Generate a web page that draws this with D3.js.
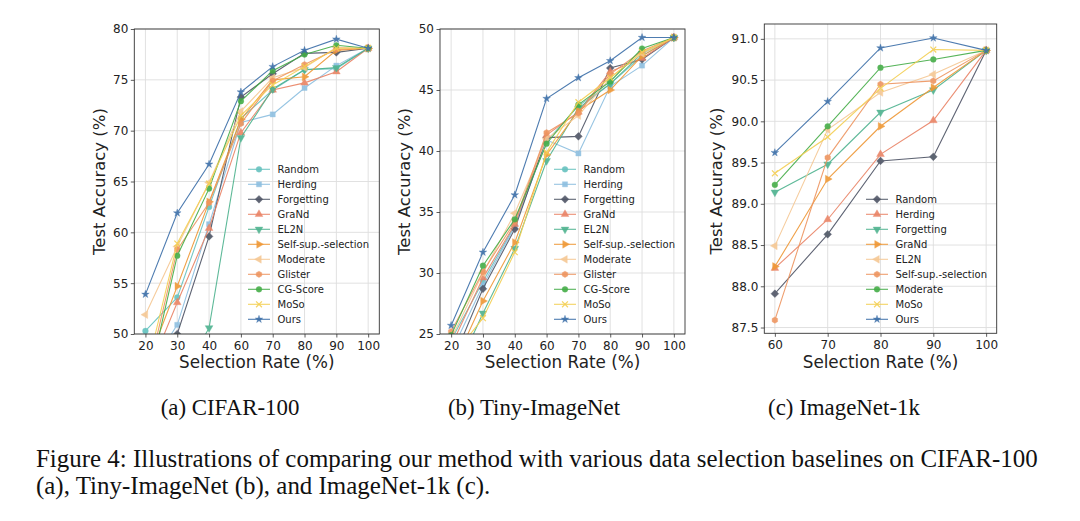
<!DOCTYPE html>
<html>
<head>
<meta charset="utf-8">
<script src="https://cdn.jsdelivr.net/npm/d3@7"></script>
<style>
  html, body { margin: 0; padding: 0; background: #fff; }
  svg { display: block; }
</style>
</head>
<body>
<svg id="svg"></svg>
<script>
// selection rates (x categories)
const ratesAB = [20, 30, 40, 60, 70, 80, 90, 100];
const ratesC = [60, 70, 80, 90, 100];

const namesAB = ["Random", "Herding", "Forgetting", "GraNd", "EL2N", "Self-sup.-selection",
    "Moderate", "Glister", "CG-Score", "MoSo", "Ours"];
const namesC = ["Random", "Herding", "Forgetting", "GraNd", "EL2N", "Self-sup.-selection",
    "Moderate", "MoSo", "Ours"];

// one style per slot, panel (c) starts at slot 2
const colors = ["#67c2bf", "#8dbfe0", "#4f5566", "#ea8467", "#4fb38f", "#ef9836",
    "#f6c894", "#ee9560", "#45ad48", "#f4cf52", "#3b6ea8"];
const markers = ["circle", "square", "diamond", "triUp", "triDown", "triRight",
    "triLeft", "hexagon", "circle", "x", "star"];

// CIFAR-100
const cifarValues = [
    [50.3, 53.6, 62.5, 71.2, 74.0, 76.0, 76.1, 78.1],
    [46.0, 50.9, 60.8, 70.8, 71.6, 74.2, 76.4, 78.1],
    [44.0, 50.0, 59.6, 73.3, 75.6, 77.6, 77.7, 78.1],
    [45.5, 53.1, 60.4, 69.8, 74.0, 74.7, 75.8, 78.1],
    [40.0, 45.0, 50.6, 69.3, 74.1, 76.0, 76.2, 78.1],
    [46.5, 54.7, 63.0, 71.1, 75.0, 75.3, 77.9, 78.1],
    [51.9, 58.6, 64.9, 71.9, 75.2, 76.2, 78.2, 78.1],
    [45.0, 58.3, 62.9, 70.7, 74.9, 76.5, 78.0, 78.1],
    [44.0, 57.7, 64.3, 72.9, 75.9, 77.5, 78.4, 78.1],
    [46.0, 58.9, 64.8, 71.5, 74.5, 76.3, 78.1, 78.1],
    [53.9, 61.9, 66.7, 73.8, 76.3, 77.9, 79.0, 78.1]
];

// Tiny-ImageNet
const tinyValues = [
    [24.5, 29.3, 33.9, 40.8, 43.7, 45.5, 47.8, 49.3],
    [23.5, 29.0, 33.8, 40.9, 39.8, 45.3, 47.0, 49.3],
    [22.5, 28.7, 33.6, 41.1, 41.2, 46.8, 47.5, 49.3],
    [24.0, 29.6, 34.0, 41.3, 43.2, 46.5, 47.6, 49.3],
    [21.0, 26.7, 32.0, 39.2, 43.5, 45.5, 48.0, 49.3],
    [22.0, 27.7, 32.5, 39.7, 43.3, 45.0, 47.8, 49.3],
    [24.6, 30.0, 34.9, 41.0, 42.9, 46.0, 48.0, 49.3],
    [25.2, 30.1, 34.2, 41.5, 43.1, 46.3, 48.2, 49.3],
    [24.9, 30.6, 34.4, 40.6, 43.8, 45.7, 48.4, 49.3],
    [23.0, 26.3, 31.7, 39.9, 44.0, 46.0, 48.1, 49.3],
    [25.7, 31.7, 36.4, 44.3, 46.0, 47.4, 49.3, 49.3]
];

// ImageNet-1k
const imagenetValues = [
    [87.91, 88.63, 89.52, 89.57, 90.86],
    [88.22, 88.81, 89.60, 90.01, 90.86],
    [89.14, 89.48, 90.11, 90.38, 90.86],
    [88.24, 89.30, 89.94, 90.41, 90.86],
    [88.49, 89.90, 90.35, 90.57, 90.86],
    [87.59, 89.56, 90.45, 90.49, 90.86],
    [89.23, 89.94, 90.65, 90.75, 90.86],
    [89.37, 89.81, 90.40, 90.87, 90.86],
    [89.62, 90.24, 90.89, 91.01, 90.86]
];

const yTicksA = [50, 55, 60, 65, 70, 75, 80];
const yTicksB = [25, 30, 35, 40, 45, 50];
const yTicksC = [87.5, 88.0, 88.5, 89.0, 89.5, 90.0, 90.5, 91.0];

const subCaptions = ["(a) CIFAR-100", "(b) Tiny-ImageNet", "(c) ImageNet-1k"];
const figCaption = [
    "Figure 4: Illustrations of comparing our method with various data selection baselines on CIFAR-100",
    "(a), Tiny-ImageNet (b), and ImageNet-1k (c)."
];

const W = 1080, H = 521;
const SANS = "'DejaVu Sans', sans-serif";
const SERIF = "'Liberation Serif', 'Times New Roman', serif";

const svg = d3.select("#svg").attr("width", W).attr("height", H);

const panels = [
    { names: namesAB, values: cifarValues, rates: ratesAB, styleOffset: 0, point: true,
      box: { l: 134.3, r: 379.3, t: 29, b: 334 }, yDomain: [50, 80], yTicks: yTicksA, yFmt: d3.format("d"),
      legend: { x: 248, y: 169.3 }, ylabX: 105, capX: 230, capW: 133, caption: subCaptions[0] },
    { names: namesAB, values: tinyValues, rates: ratesAB, styleOffset: 0, point: true,
      box: { l: 440, r: 685, t: 29, b: 334 }, yDomain: [25, 50], yTicks: yTicksB, yFmt: d3.format("d"),
      legend: { x: 554, y: 169.3 }, ylabX: 410, capX: 534, capW: 184, caption: subCaptions[1] },
    { names: namesC, values: imagenetValues, rates: ratesC, styleOffset: 2, point: false,
      box: { l: 764.3, r: 996.7, t: 24, b: 333.3 }, yDomain: [87.43, 91.18], yTicks: yTicksC, yFmt: d3.format(".1f"),
      legend: { x: 866, y: 199.3 }, ylabX: 722, capX: 844, capW: 148, caption: subCaptions[2] }
];

// hexagon marker (matplotlib "h")
const symbolHexagon = {
    draw(ctx, size) {
        const r = Math.sqrt(size / (1.5 * Math.sqrt(3)));
        for (let i = 0; i < 6; i++) {
            const a = Math.PI / 2 + i * Math.PI / 3;
            const px = r * Math.cos(a), py = r * Math.sin(a);
            if (i === 0) ctx.moveTo(px, py); else ctx.lineTo(px, py);
        }
        ctx.closePath();
    }
};
const symbolTimes = d3.symbolTimes || d3.symbolX || d3.symbolCross;

function markerShape(kind) {
    switch (kind) {
        case "circle": return { type: d3.symbolCircle, size: 26, rot: 0 };
        case "square": return { type: d3.symbolSquare, size: 26, rot: 0 };
        case "diamond": return { type: d3.symbolSquare, size: 30, rot: 45 };
        case "triUp": return { type: d3.symbolTriangle, size: 26, rot: 0 };
        case "triDown": return { type: d3.symbolTriangle, size: 26, rot: 180 };
        case "triRight": return { type: d3.symbolTriangle, size: 26, rot: 90 };
        case "triLeft": return { type: d3.symbolTriangle, size: 26, rot: -90 };
        case "hexagon": return { type: symbolHexagon, size: 26, rot: 0 };
        case "x": return { type: symbolTimes, size: 24, rot: 0, stroke: true };
        case "star": return { type: d3.symbolStar, size: 18, rot: 0 };
        default: return { type: d3.symbolCircle, size: 26, rot: 0 };
    }
}

function drawMarker(g, kind, color, x, y) {
    const m = markerShape(kind);
    const p = g.append("path")
        .attr("d", d3.symbol().type(m.type).size(m.size)())
        .attr("transform", `translate(${x},${y}) rotate(${m.rot})`);
    if (m.stroke) {
        p.attr("fill", "none").attr("stroke", color).attr("stroke-width", 1.2);
    } else {
        p.attr("fill", color).attr("stroke", color).attr("stroke-width", 0.4);
    }
    return p;
}

const subCaps = [];

panels.forEach((pn, pi) => {
    const { l, r, t, b } = pn.box;

    const x = pn.point
        ? d3.scalePoint().domain(pn.rates).range([l, r]).padding(0.35)
        : d3.scaleLinear().domain([58, 102]).range([l, r]);
    const y = d3.scaleLinear().domain(pn.yDomain).range([b, t]);

    const clipId = `clip${pi}`;
    svg.append("clipPath").attr("id", clipId)
        .append("rect").attr("x", l).attr("y", t).attr("width", r - l).attr("height", b - t);

    const panel = svg.append("g");

    //网格
    const grid = panel.append("g");
    pn.rates.forEach(v => {
        grid.append("line")
            .attr("x1", x(v)).attr("x2", x(v)).attr("y1", t).attr("y2", b)
            .attr("stroke", "#dedede").attr("stroke-width", 0.9);
    });
    pn.yTicks.forEach(v => {
        grid.append("line")
            .attr("x1", l).attr("x2", r).attr("y1", y(v)).attr("y2", y(v))
            .attr("stroke", "#dedede").attr("stroke-width", 0.9);
    });

    //曲线
    const plot = panel.append("g").attr("clip-path", `url(#${clipId})`);
    const line = d3.line().x(d => x(d[0])).y(d => y(d[1]));
    pn.values.forEach((vals, si) => {
        const k = si + pn.styleOffset;
        const pts = pn.rates.map((rate, i) => [rate, vals[i]]);
        const sg = plot.append("g").attr("opacity", 0.9);
        sg.append("path")
            .attr("d", line(pts))
            .attr("fill", "none")
            .attr("stroke", colors[k])
            .attr("stroke-width", 1.1);
        pts.forEach(p => drawMarker(sg, markers[k], colors[k], x(p[0]), y(p[1])));
    });

    //坐标轴
    const xAxis = panel.append("g")
        .attr("transform", `translate(0,${b})`)
        .call((pn.point ? d3.axisBottom(x) : d3.axisBottom(x).tickValues(pn.rates).tickFormat(d3.format("d")))
            .tickSize(3.5).tickPadding(3.5).tickSizeOuter(0));
    const yAxis = panel.append("g")
        .attr("transform", `translate(${l},0)`)
        .call(d3.axisLeft(y).tickValues(pn.yTicks).tickFormat(pn.yFmt)
            .tickSize(3.5).tickPadding(2.5).tickSizeOuter(0));
    [xAxis, yAxis].forEach(ax => {
        ax.select(".domain").remove();
        ax.selectAll(".tick line").attr("stroke", "#333").attr("stroke-width", 0.8);
        ax.selectAll(".tick text")
            .attr("fill", "#222")
            .style("font-family", SANS)
            .style("font-size", "12px");
    });

    panel.append("rect")
        .attr("x", l).attr("y", t).attr("width", r - l).attr("height", b - t)
        .attr("fill", "none").attr("stroke", "#333").attr("stroke-width", 0.9);

    //轴标题
    panel.append("text")
        .attr("x", (l + r) / 2).attr("y", 368)
        .attr("text-anchor", "middle")
        .style("font-family", SANS).style("font-size", "16.8px").attr("fill", "#222")
        .text("Selection Rate (%)");
    const cy = pi === 2 ? 181 : (t + b) / 2;
    panel.append("text")
        .attr("transform", `translate(${pn.ylabX},${cy}) rotate(-90)`)
        .attr("text-anchor", "middle")
        .style("font-family", SANS).style("font-size", "16.5px").attr("fill", "#222")
        .text("Test Accuracy (%)");

    //图例
    const lg = panel.append("g").attr("transform", `translate(${pn.legend.x},${pn.legend.y})`);
    pn.names.forEach((name, si) => {
        const k = si + pn.styleOffset;
        const row = lg.append("g").attr("transform", `translate(0,${si * 15})`);
        row.append("line")
            .attr("x1", 0).attr("x2", 22).attr("y1", 0).attr("y2", 0)
            .attr("stroke", colors[k]).attr("stroke-width", 1.1).attr("opacity", 0.9);
        drawMarker(row, markers[k], colors[k], 11, 0).attr("opacity", 0.9);
        row.append("text")
            .attr("x", 29.5).attr("y", 3.6)
            .style("font-family", SANS).style("font-size", "10px").attr("fill", "#222")
            .text(name);
    });

    //子图标题
    const cap = svg.append("text")
        .attr("x", pn.capX).attr("y", 415)
        .attr("text-anchor", "middle")
        .style("font-family", SERIF).style("font-size", "18px").attr("fill", "#111")
        .text(pn.caption);
    subCaps.push({ node: cap, fit: 18 * pn.capW / cap.node().getComputedTextLength() });
});

// one common size for the three sub-captions
const capSize = d3.mean(subCaps, c => c.fit);
subCaps.forEach(c => c.node.style("font-size", `${capSize.toFixed(2)}px`));

// figure caption, fitted to the measured width of the first line
const capLines = figCaption.map((txt, i) => svg.append("text")
    .attr("x", 36).attr("y", 467 + i * 26.5)
    .style("font-family", SERIF).style("font-size", "21px").attr("fill", "#111")
    .text(txt));
const len0 = capLines[0].node().getComputedTextLength();
const fs = 21 * 1002 / len0;
capLines.forEach(c => c.style("font-size", `${fs.toFixed(2)}px`));
</script>
</body>
</html>
